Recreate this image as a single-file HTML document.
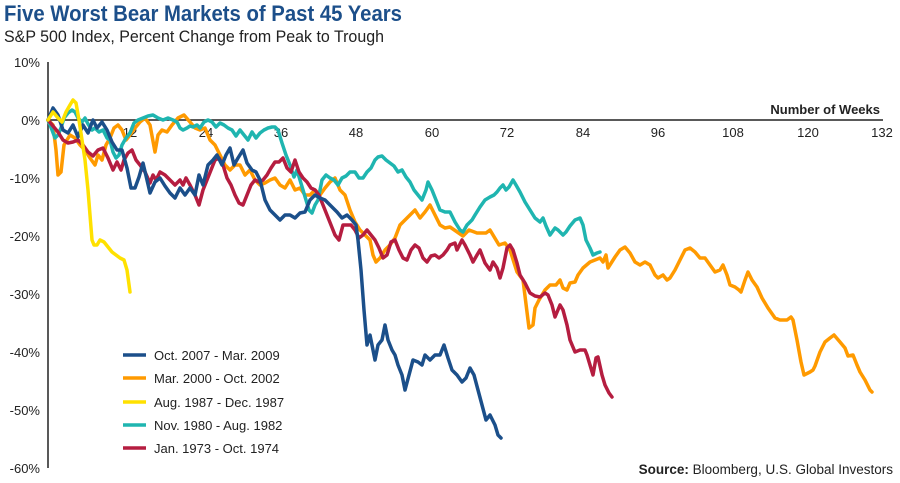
<!DOCTYPE html>
<html><head><meta charset="utf-8"><style>
body{margin:0;background:#fff;}
svg{display:block;font-family:"Liberation Sans",sans-serif;}
</style></head><body>
<svg width="900" height="483" viewBox="0 0 900 483" xmlns="http://www.w3.org/2000/svg">
<text x="4" y="21" font-size="22" font-weight="bold" fill="#1c4f8a" textLength="398" lengthAdjust="spacingAndGlyphs">Five Worst Bear Markets of Past 45 Years</text>
<text x="4" y="42" font-size="16.5" fill="#222" textLength="380" lengthAdjust="spacingAndGlyphs">S&amp;P 500 Index, Percent Change from Peak to Trough</text>
<g font-size="13" fill="#222" text-anchor="end">
<text x="40" y="67">10%</text><text x="40" y="125">0%</text><text x="40" y="183">-10%</text><text x="40" y="241">-20%</text><text x="40" y="299">-30%</text><text x="40" y="357">-40%</text><text x="40" y="415">-50%</text><text x="40" y="473">-60%</text>
</g>
<line x1="48" y1="62" x2="48" y2="468" stroke="#222" stroke-width="1.5"/>
<line x1="48" y1="120" x2="883" y2="120" stroke="#222" stroke-width="1.5"/>
<g font-size="13" fill="#222" text-anchor="middle">
<text x="130" y="137">12</text><text x="206" y="137">24</text><text x="281" y="137">36</text><text x="356" y="137">48</text><text x="432" y="137">60</text><text x="507" y="137">72</text><text x="583" y="137">84</text><text x="658" y="137">96</text><text x="733" y="137">108</text><text x="808" y="137">120</text><text x="882" y="137">132</text>
</g>
<text x="880" y="114" font-size="13" font-weight="bold" fill="#222" text-anchor="end">Number of Weeks</text>
<g fill="none" stroke-width="3.5" stroke-linejoin="round" stroke-linecap="round">
<polyline stroke="#ff9a00" points="48,120 53,125 56,150 58,175 61,172 64,145 67,140 70,135 75,138 80,145 85,150 90,158 95,165 98,155 102,160 106,145 110,138 114,128 118,125 122,130 126,140 130,135 135,128 140,122 145,118 150,125 155,152 158,135 162,130 167,132 172,125 178,118 184,115 190,122 195,128 200,130 205,128 210,140 215,145 220,155 225,165 230,170 235,165 240,165 245,175 250,170 255,180 260,185 265,183 270,180 275,178 280,185 285,188 290,180 295,190 300,188 305,195 310,195 315,190 320,195 325,188 330,182 335,178 340,190 345,195 350,210 355,222 360,230 365,235 370,240 373,255 376,262 380,258 385,250 390,245 395,238 400,225 405,220 410,215 415,210 420,218 425,212 430,205 435,215 440,225 445,228 450,227 463,236 469,230 477,233 486,233 490,230 499,245 505,243 510,250 517,272 523,280 529,328 533,325 535,308 539,300 545,290 550,285 556,285 560,280 563,288 567,290 570,283 575,282 578,275 583,268 590,262 595,260 600,258 603,262 606,255 608,268 615,257 620,250 625,247 630,253 635,262 640,265 645,262 650,265 655,275 658,278 663,275 667,280 670,278 675,270 680,260 685,250 690,248 695,252 700,258 705,258 710,265 715,272 720,270 723,265 727,275 730,285 735,287 739,290 741,292 745,280 748,272 752,280 757,287 762,298 768,308 775,318 780,320 787,320 791,317 793,320 797,340 801,362 804,375 810,372 813,370 815,366 820,352 825,342 830,338 834,335 840,342 845,348 848,356 853,355 857,365 860,372 865,380 870,390 872,392"/>
<polyline stroke="#1fb5b0" points="48,120 52,130 55,138 58,135 61,128 64,118 68,113 72,110 75,112 78,118 82,122 85,118 88,124 92,130 95,128 99,132 103,130 107,138 110,140 113,152 116,158 119,155 122,145 126,138 130,133 134,123 138,120 143,118 148,116 153,115 158,118 163,120 168,118 173,120 177,122 180,128 183,130 187,128 190,126 193,127 197,125 200,128 204,122 208,120 212,122 216,127 220,123 224,125 228,128 232,130 236,136 240,130 244,135 248,140 252,132 256,138 260,133 264,130 268,128 272,127 275,127 278,130 282,143 286,155 290,165 294,177 297,170 300,180 303,190 306,200 309,210 312,213 315,205 318,200 320,190 322,180 326,175 330,178 334,180 338,185 342,178 346,176 350,172 355,172 359,178 363,178 367,172 371,168 375,160 378,157 382,156 386,160 390,163 394,166 398,172 402,170 406,177 410,182 414,190 418,195 422,200 426,190 428,182 432,190 436,200 440,210 445,212 450,212 455,222 460,230 463,232 467,225 472,220 475,215 480,207 485,200 490,197 494,195 497,192 500,188 503,185 506,190 509,187 513,180 516,185 520,192 525,202 530,210 535,218 540,222 543,218 546,226 550,235 555,228 558,230 563,235 566,232 570,226 575,220 580,218 583,225 586,240 590,248 593,255 597,253 600,252"/>
<polyline stroke="#b51d40" points="48,120 53,126 58,132 63,140 68,143 73,142 78,140 83,145 88,152 93,156 98,150 103,148 108,158 113,170 117,162 121,170 124,160 128,153 132,150 136,160 140,165 145,172 150,183 153,175 156,180 160,172 165,175 170,180 175,185 180,180 183,185 186,178 190,185 195,195 199,205 203,190 207,180 211,170 215,160 219,158 223,165 227,178 231,185 235,195 239,203 243,205 247,195 251,185 255,180 259,182 263,180 267,175 271,168 275,162 279,162 283,158 287,168 291,172 295,160 299,172 303,178 307,182 311,188 315,190 319,195 323,205 327,215 331,225 335,235 339,240 343,225 347,225 351,225 355,230 359,238 363,235 367,230 371,235 375,240 379,248 383,258 387,255 391,242 395,240 399,250 403,258 407,260 411,250 415,245 419,248 423,258 427,262 431,256 435,255 439,258 443,255 447,250 450,245 455,243 457,250 462,240 465,245 470,255 473,262 477,255 480,250 485,263 490,270 493,262 497,268 500,278 503,268 507,248 510,245 513,250 517,263 520,275 525,283 530,293 535,296 540,297 545,293 548,295 552,305 555,317 560,305 563,310 567,325 570,340 575,352 580,350 585,350 587,355 590,365 593,375 596,358 598,357 602,375 605,385 609,393 612,397"/>
<polyline stroke="#1b4f8a" points="48,120 53,108 58,115 63,130 68,133 73,125 78,137 83,125 88,133 93,120 97,128 102,122 107,130 112,142 117,150 122,150 127,168 131,188 135,188 139,177 143,163 147,180 150,193 155,182 160,178 165,186 170,193 175,198 180,188 185,195 190,188 195,195 199,175 203,185 208,165 213,160 217,155 222,165 226,155 230,148 234,165 238,158 243,150 247,163 252,170 256,172 260,180 265,200 270,210 275,215 280,220 285,215 290,215 295,218 300,213 305,212 310,200 315,195 320,198 325,200 330,205 337,212 342,218 347,215 352,220 356,225 358,240 361,270 364,310 367,345 370,335 372,345 375,360 378,345 382,340 385,325 388,340 392,350 395,355 398,365 402,375 405,390 409,375 413,360 418,362 422,365 425,355 430,360 435,355 440,355 444,345 448,358 452,370 457,375 462,382 466,378 470,368 474,375 478,390 482,405 486,420 490,415 495,425 498,435 501,438"/>
<polyline stroke="#ffe100" points="48,120 53,112 58,118 62,122 66,112 70,105 73,100 76,103 79,120 82,140 85,160 88,190 90,215 92,240 94,245 97,245 100,240 104,242 108,247 112,252 116,255 120,258 124,260 127,270 130,292"/>
</g>
<g stroke-width="3.5">
<line x1="123" y1="355" x2="146" y2="355" stroke="#1b4f8a"/>
<line x1="123" y1="378" x2="146" y2="378" stroke="#ff9a00"/>
<line x1="123" y1="402" x2="146" y2="402" stroke="#ffe100"/>
<line x1="123" y1="425" x2="146" y2="425" stroke="#1fb5b0"/>
<line x1="123" y1="448" x2="146" y2="448" stroke="#b51d40"/>
</g>
<g font-size="13" fill="#222">
<text x="154" y="360">Oct. 2007 - Mar. 2009</text>
<text x="154" y="383">Mar. 2000 - Oct. 2002</text>
<text x="154" y="407">Aug. 1987 - Dec. 1987</text>
<text x="154" y="430">Nov. 1980 - Aug. 1982</text>
<text x="154" y="453">Jan. 1973 - Oct. 1974</text>
</g>
<text x="893" y="474" font-size="13.5" fill="#222" text-anchor="end"><tspan font-weight="bold">Source:</tspan> Bloomberg, U.S. Global Investors</text>
</svg>
</body></html>
